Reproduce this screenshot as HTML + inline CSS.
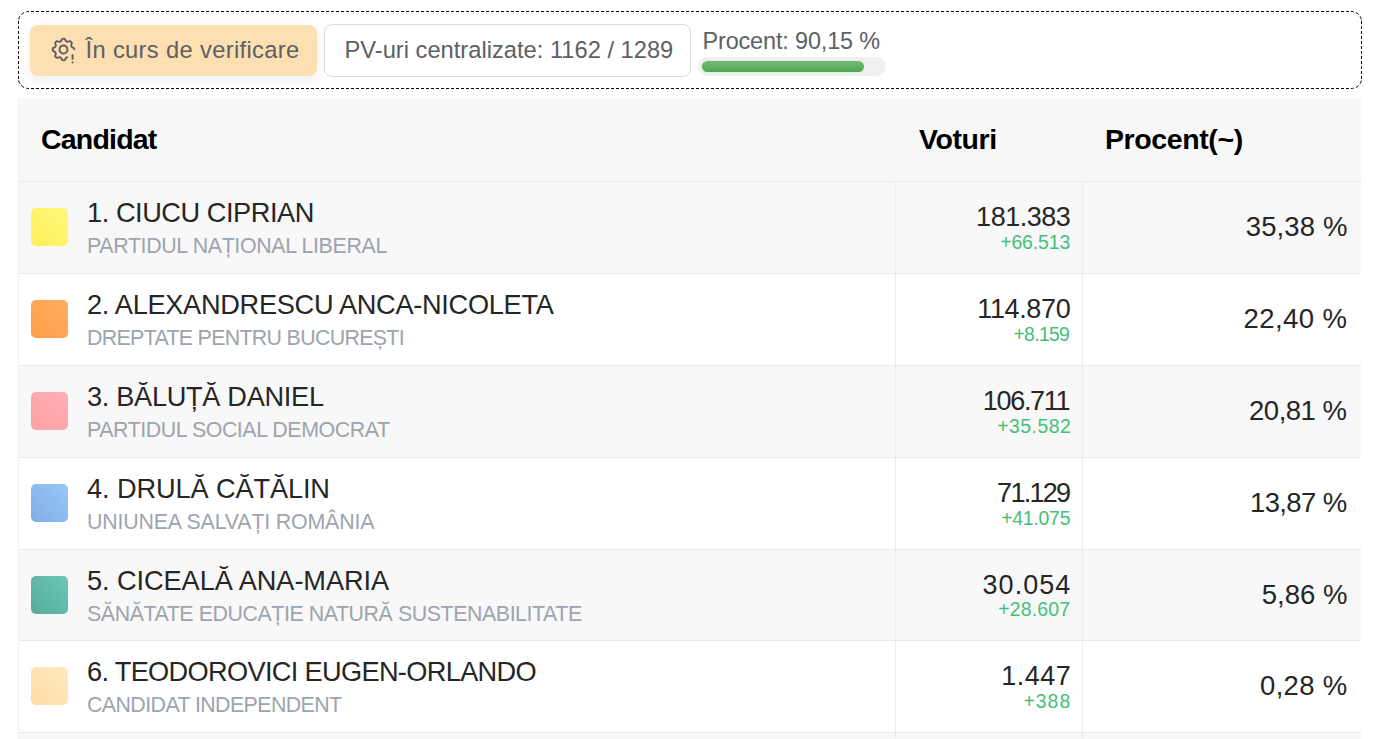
<!DOCTYPE html>
<html lang="ro">
<head>
<meta charset="utf-8">
<title>Rezultate</title>
<style>
html,body{margin:0;padding:0;background:#fff;}
body{width:1391px;height:739px;overflow:hidden;position:relative;font-family:"Liberation Sans",sans-serif;}
.a{position:absolute;}
.t{position:absolute;white-space:nowrap;line-height:1;}
.badge{left:30px;top:25px;width:287px;height:51px;background:#fedfb2;border-radius:8px;box-shadow:0 4px 12px rgba(20,30,60,0.07);}
.pv{left:324px;top:24px;width:365px;height:51px;border:1px solid #dcdcdc;border-radius:8px;background:#fff;}
.track{left:698px;top:57px;width:188px;height:19px;background:#f0f0f0;border-radius:10px;}
.fill{left:702px;top:61px;width:162px;height:11px;border-radius:6px;background:linear-gradient(#78b978,#4ea64f);box-shadow:0 0 0 1px #d8f5d8;}
.gray{color:#5d6064;}
.tbl{left:18px;top:98px;width:1343px;height:641px;background:#fff;}
.th{left:18px;top:98px;width:1343px;height:83px;background:#f8f8f8;}
.row{position:absolute;left:18px;width:1343px;}
.odd{background:#f8f8f8;}
.hl{position:absolute;left:18px;width:1343px;height:1px;background:#e9e9e9;}
.vl{position:absolute;width:1px;background:#ececec;}
.sq{position:absolute;left:31px;width:37px;height:38px;border-radius:5px;}
.nm{color:#262626;font-size:27.2px;letter-spacing:-0.45px;}
.pt{color:#9ea4ad;font-size:21.4px;letter-spacing:-0.37px;}
.vt{color:#262626;font-size:27px;letter-spacing:-0.45px;text-align:right;}
.df{color:#45c078;font-size:19.4px;letter-spacing:-0.1px;text-align:right;}
.pc{color:#262626;font-size:27.5px;text-align:right;}
.hd{color:#000;font-size:28.5px;font-weight:700;letter-spacing:-0.4px;}
</style>
</head>
<body>
<svg class="a" style="left:0;top:0" width="1391" height="100" viewBox="0 0 1391 100" fill="none" stroke="#000" stroke-width="1" stroke-dasharray="3 2">
<path d="M29 11.5H1351" stroke-dashoffset="3"/>
<path d="M29 88.5H1351" stroke-dashoffset="3"/>
<path d="M18.5 21V79" stroke-dashoffset="0"/>
<path d="M1361.5 21V79" stroke-dashoffset="0"/>
<g stroke-dasharray="3.4 2.2" stroke-dashoffset="4">
<path d="M18.5 21A10.5 9.5 0 0 1 29 11.5"/>
<path d="M1361.5 21A10.5 9.5 0 0 0 1351 11.5"/>
<path d="M1361.5 79A10.5 9.5 0 0 1 1351 88.5"/>
<path d="M18.5 79A10.5 9.5 0 0 0 29 88.5"/>
</g>
</svg>
<div class="a badge"></div>
<svg class="a" style="left:48.8px;top:35.1px" width="29" height="29" viewBox="0 0 24 24" fill="none" stroke="#5d5e60" stroke-width="1.6" stroke-linecap="round" stroke-linejoin="round"><path d="M15.004 18.401a1.724 1.724 0 0 0 -1.329 1.282c-.426 1.756 -2.924 1.756 -3.35 0a1.724 1.724 0 0 0 -2.573 -1.066c-1.543 .94 -3.31 -.826 -2.37 -2.37a1.724 1.724 0 0 0 -1.065 -2.572c-1.756 -.426 -1.756 -2.924 0 -3.35a1.724 1.724 0 0 0 1.066 -2.573c-.94 -1.543 .826 -3.31 2.37 -2.37c1 .608 2.296 .07 2.572 -1.065c.426 -1.756 2.924 -1.756 3.35 0a1.724 1.724 0 0 0 2.573 1.066c1.543 -.94 3.31 .826 2.37 2.37a1.724 1.724 0 0 0 1.065 2.572c.81 .196 1.238 .839 1.284 1.494"/><path d="M8.7 12a3.3 3.3 0 1 0 6.6 0a3.3 3.3 0 0 0 -6.6 0"/><path d="M19.5 16.8v3"/><path d="M19.5 22.7v.01"/></svg>
<div class="t gray" style="left:85.5px;top:38.5px;font-size:23.7px;letter-spacing:0.35px;">În curs de verificare</div>
<div class="a pv"></div>
<div class="t gray" style="left:344.5px;top:39px;font-size:23.7px;">PV-uri centralizate: 1162 / 1289</div>
<div class="t gray" style="left:702.5px;top:30px;font-size:23.4px;letter-spacing:-0.12px;">Procent: 90,15 %</div>
<div class="a track"></div>
<div class="a fill"></div>

<div class="a tbl"></div>
<div class="a th"></div>
<div class="t hd" style="left:41px;top:125px;letter-spacing:-0.8px;">Candidat</div>
<div class="t hd" style="left:919px;top:125px;">Voturi</div>
<div class="t hd" style="left:1105px;top:125px;">Procent(~)</div>
<div class="row odd" style="top:182.30px;height:90.83px"></div>
<div class="hl" style="top:181.30px"></div>
<div class="sq" style="top:208.30px;background:linear-gradient(to bottom left,#fff87c,#ffee58)"></div>
<div class="t nm" style="left:87px;top:199.30px;letter-spacing:-0.450px">1. CIUCU CIPRIAN</div>
<div class="t pt" style="left:87px;top:236.20px;letter-spacing:-0.366px">PARTIDUL NAȚIONAL LIBERAL</div>
<div class="t vt" style="right:320.70px;top:204.20px;letter-spacing:-0.483px">181.383</div>
<div class="t df" style="right:320.80px;top:233.10px;letter-spacing:-0.083px">+66.513</div>
<div class="t pc" style="right:43.50px;top:213.20px;letter-spacing:0.117px">35,38 %</div>
<div class="hl" style="top:273.13px"></div>
<div class="sq" style="top:300.13px;background:linear-gradient(to bottom left,#ffb060,#ff9d48)"></div>
<div class="t nm" style="left:87px;top:291.13px;letter-spacing:-0.307px">2. ALEXANDRESCU ANCA-NICOLETA</div>
<div class="t pt" style="left:87px;top:328.03px;letter-spacing:-0.699px">DREPTATE PENTRU BUCUREȘTI</div>
<div class="t vt" style="right:320.70px;top:296.03px;letter-spacing:-0.367px">114.870</div>
<div class="t df" style="right:321.80px;top:324.93px;letter-spacing:-0.680px">+8.159</div>
<div class="t pc" style="right:43.50px;top:305.03px;letter-spacing:0.433px">22,40 %</div>
<div class="row odd" style="top:365.96px;height:90.83px"></div>
<div class="hl" style="top:364.96px"></div>
<div class="sq" style="top:391.96px;background:linear-gradient(to bottom left,#ffb0b3,#fca0a5)"></div>
<div class="t nm" style="left:87px;top:382.96px;letter-spacing:-0.317px">3. BĂLUȚĂ DANIEL</div>
<div class="t pt" style="left:87px;top:419.86px;letter-spacing:-0.453px">PARTIDUL SOCIAL DEMOCRAT</div>
<div class="t vt" style="right:321.70px;top:387.86px;letter-spacing:-1.283px">106.711</div>
<div class="t df" style="right:319.80px;top:416.76px;letter-spacing:0.483px">+35.582</div>
<div class="t pc" style="right:44.50px;top:396.86px;letter-spacing:-0.500px">20,81 %</div>
<div class="hl" style="top:456.79px"></div>
<div class="sq" style="top:483.79px;background:linear-gradient(to bottom left,#98c8f7,#7eaee6)"></div>
<div class="t nm" style="left:87px;top:474.79px;letter-spacing:-0.117px">4. DRULĂ CĂTĂLIN</div>
<div class="t pt" style="left:87px;top:511.69px;letter-spacing:-0.188px">UNIUNEA SALVAȚI ROMÂNIA</div>
<div class="t vt" style="right:321.70px;top:479.69px;letter-spacing:-1.730px">71.129</div>
<div class="t df" style="right:320.80px;top:508.59px;letter-spacing:-0.233px">+41.075</div>
<div class="t pc" style="right:44.50px;top:488.69px;letter-spacing:-0.633px">13,87 %</div>
<div class="row odd" style="top:549.62px;height:90.83px"></div>
<div class="hl" style="top:548.62px"></div>
<div class="sq" style="top:575.62px;background:linear-gradient(to bottom left,#6fc6b6,#55ab9c)"></div>
<div class="t nm" style="left:87px;top:566.62px;letter-spacing:-0.082px">5. CICEALĂ ANA-MARIA</div>
<div class="t pt" style="left:87px;top:603.52px;letter-spacing:-0.447px">SĂNĂTATE EDUCAȚIE NATURĂ SUSTENABILITATE</div>
<div class="t vt" style="right:319.70px;top:571.52px;letter-spacing:1.030px">30.054</div>
<div class="t df" style="right:320.80px;top:600.42px;letter-spacing:0.183px">+28.607</div>
<div class="t pc" style="right:43.50px;top:580.52px;letter-spacing:0.020px">5,86 %</div>
<div class="hl" style="top:640.45px"></div>
<div class="sq" style="top:667.45px;background:linear-gradient(to bottom left,#ffe9c2,#ffdba4)"></div>
<div class="t nm" style="left:87px;top:658.45px;letter-spacing:-0.672px">6. TEODOROVICI EUGEN-ORLANDO</div>
<div class="t pt" style="left:87px;top:695.35px;letter-spacing:-0.602px">CANDIDAT INDEPENDENT</div>
<div class="t vt" style="right:319.70px;top:663.35px;letter-spacing:0.475px">1.447</div>
<div class="t df" style="right:319.80px;top:692.25px;letter-spacing:1.000px">+388</div>
<div class="t pc" style="right:43.50px;top:672.35px;letter-spacing:0.300px">0,28 %</div>
<div class="row odd" style="top:733.28px;height:20px"></div>
<div class="hl" style="top:732.28px"></div>
<div class="vl" style="left:895px;top:181px;height:558px"></div>
<div class="vl" style="left:1082px;top:181px;height:558px"></div>
<div class="vl" style="left:18px;top:98px;height:641px;background:#f0f0f0"></div>
</body>
</html>
